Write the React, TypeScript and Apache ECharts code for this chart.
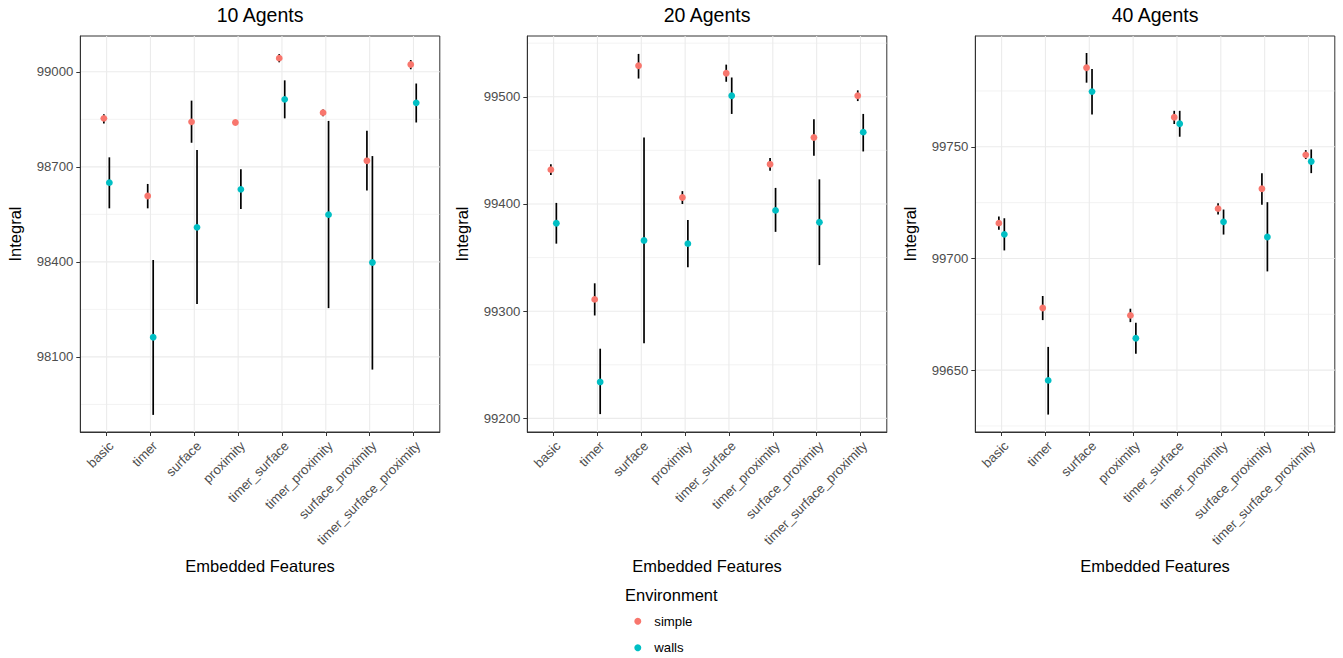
import React, { useEffect, useRef } from "react";
import * as echarts from "echarts";

const categories = ["basic", "timer", "surface", "proximity", "timer_surface", "timer_proximity", "surface_proximity", "timer_surface_proximity"];
const panelTitles = ["10 Agents", "20 Agents", "40 Agents"];
const envNames = ["simple", "walls"];

// 10 agents
const a10SimpleMean = [98853, 98608, 98842, 98840, 99043, 98871, 98719, 99023];
const a10SimpleLow = [98837, 98569, 98776, 98836, 99030, 98860, 98625, 99008];
const a10SimpleHigh = [98866, 98646, 98909, 98844, 99056, 98881, 98814, 99037];
const a10WallsMean = [98650, 98162, 98509, 98629, 98913, 98549, 98398, 98902];
const a10WallsLow = [98569, 97917, 98267, 98567, 98853, 98254, 98060, 98840];
const a10WallsHigh = [98730, 98406, 98753, 98692, 98973, 98845, 98734, 98963];

// 20 agents
const a20SimpleMean = [99432, 99311, 99529, 99406, 99522, 99437, 99462, 99501];
const a20SimpleLow = [99427, 99296, 99517, 99400, 99514, 99431, 99445, 99496];
const a20SimpleHigh = [99437, 99326, 99540, 99412, 99530, 99443, 99479, 99506];
const a20WallsMean = [99382, 99234, 99366, 99363, 99501, 99394, 99383, 99467];
const a20WallsLow = [99363, 99204, 99270, 99341, 99484, 99374, 99343, 99449];
const a20WallsHigh = [99401, 99265, 99462, 99385, 99518, 99415, 99423, 99484];

// 40 agents
const a40SimpleMean = [99715.8, 99677.8, 99785.4, 99674.5, 99763.2, 99722.3, 99731.2, 99746.4];
const a40SimpleLow = [99712.8, 99672.4, 99778.7, 99671.5, 99760.2, 99719.7, 99724.1, 99744.5];
const a40SimpleHigh = [99718.8, 99683.2, 99792, 99677.5, 99766.1, 99724.7, 99738.2, 99748.5];
const a40WallsMean = [99710.8, 99645.4, 99774.7, 99664.3, 99760.3, 99716.4, 99709.6, 99743.4];
const a40WallsLow = [99703.6, 99630.1, 99764.4, 99657.3, 99754.5, 99710.7, 99694.2, 99738.2];
const a40WallsHigh = [99718, 99660.4, 99784.8, 99671.2, 99766.1, 99721.9, 99725.2, 99748.8];

const yRange10 = [97863, 99113];
const yRange20 = [99187.3, 99556.7];
const yRange40 = [99622.3, 99799.6];

const yMajor10 = [98100, 98400, 98700, 99000];
const yMinor10 = [97950, 98250, 98550, 98850];
const yMajor20 = [99200, 99300, 99400, 99500];
const yMinor20 = [99250, 99350, 99450, 99550];
const yMajor40 = [99650, 99700, 99750];
const yMinor40 = [99625, 99675, 99725, 99775];

const FONT = "'Liberation Sans', Arial, Helvetica, sans-serif";
const COLORS = ["#F8766D", "#00BFC4"];
const GRID_COLOR = "#EBEBEB";
const DODGE = 0.0625;

const panels = [
  {
    sMean: a10SimpleMean, sLow: a10SimpleLow, sHigh: a10SimpleHigh,
    wMean: a10WallsMean, wLow: a10WallsLow, wHigh: a10WallsHigh,
    range: yRange10, major: yMajor10, minor: yMinor10, left: 80.3,
  },
  {
    sMean: a20SimpleMean, sLow: a20SimpleLow, sHigh: a20SimpleHigh,
    wMean: a20WallsMean, wLow: a20WallsLow, wHigh: a20WallsHigh,
    range: yRange20, major: yMajor20, minor: yMinor20, left: 527.3,
  },
  {
    sMean: a40SimpleMean, sLow: a40SimpleLow, sHigh: a40SimpleHigh,
    wMean: a40WallsMean, wLow: a40WallsLow, wHigh: a40WallsHigh,
    range: yRange40, major: yMajor40, minor: yMinor40, left: 975.3,
  },
];

const PANEL_TOP = 36;
const PANEL_W = 359.5;
const PANEL_H = 396;

export default function App() {
  const ref = useRef<HTMLDivElement>(null);

  useEffect(() => {
    if (!ref.current) return;
    const chart = echarts.init(ref.current, undefined, { renderer: "svg" });
    const catPos = categories.map((_, i) => i + 1);

    const grids: any[] = [];
    const xAxes: any[] = [];
    const yAxes: any[] = [];
    const series: any[] = [];
    const titles: any[] = [];

    panels.forEach((p, k) => {
      grids.push({
        left: p.left, top: PANEL_TOP, width: PANEL_W, height: PANEL_H,
        show: true, borderColor: "#333333", borderWidth: 1, backgroundColor: "transparent",
      });
      titles.push({
        text: panelTitles[k],
        left: p.left + PANEL_W / 2,
        top: 5,
        textAlign: "center",
        padding: 0,
        textStyle: { fontFamily: FONT, fontSize: 19.5, fontWeight: "normal", color: "#000000" },
      });
      xAxes.push({
        type: "value", gridIndex: k, min: 0.4, max: 8.6,
        name: "Embedded Features", nameLocation: "middle", nameGap: 125,
        nameTextStyle: { fontFamily: FONT, fontSize: 16.5, color: "#000000" },
        axisLine: { show: true, lineStyle: { color: "#333333", width: 1 } },
        axisTick: { show: true, customValues: catPos, length: 4, lineStyle: { color: "#333333", width: 1 } },
        axisLabel: {
          customValues: catPos,
          formatter: (v: number) => categories[Math.round(v) - 1] ?? "",
          rotate: 45, margin: 7, align: "right", verticalAlign: "top",
          fontFamily: FONT, fontSize: 13.2, color: "#4D4D4D",
        },
        splitLine: { show: false },
      });
      yAxes.push({
        type: "value", gridIndex: k, min: p.range[0], max: p.range[1],
        name: "Integral", nameLocation: "middle", nameGap: 56.5,
        nameTextStyle: { fontFamily: FONT, fontSize: 16.5, color: "#000000" },
        axisLine: { show: true, lineStyle: { color: "#333333", width: 1 } },
        axisTick: { show: true, customValues: p.major, length: 4, lineStyle: { color: "#333333", width: 1 } },
        axisLabel: {
          customValues: p.major, margin: 7,
          formatter: (v: number) => String(Math.round(v)),
          fontFamily: FONT, fontSize: 13.2, color: "#4D4D4D",
        },
        splitLine: { show: false },
      });

      const hLine = (values: number[], width: number) => ({
        type: "custom", xAxisIndex: k, yAxisIndex: k, silent: true, z: 0,
        data: values.map((v) => [1, v]),
        renderItem: (params: any, api: any) => {
          const cs = params.coordSys;
          const y = api.coord([api.value(0), api.value(1)])[1];
          return {
            type: "line",
            shape: { x1: cs.x, y1: y, x2: cs.x + cs.width, y2: y },
            style: { stroke: GRID_COLOR, lineWidth: width },
          };
        },
      });
      series.push(hLine(p.minor, 0.6));
      series.push(hLine(p.major, 1.1));
      series.push({
        type: "custom", xAxisIndex: k, yAxisIndex: k, silent: true, z: 0,
        data: catPos.map((c) => [c, p.range[0]]),
        renderItem: (params: any, api: any) => {
          const cs = params.coordSys;
          const x = api.coord([api.value(0), api.value(1)])[0];
          return {
            type: "line",
            shape: { x1: x, y1: cs.y, x2: x, y2: cs.y + cs.height },
            style: { stroke: GRID_COLOR, lineWidth: 1.1 },
          };
        },
      });

      const envs = [
        { mean: p.sMean, low: p.sLow, high: p.sHigh, off: -DODGE },
        { mean: p.wMean, low: p.wLow, high: p.wHigh, off: DODGE },
      ];
      envs.forEach((e) => {
        series.push({
          type: "custom", xAxisIndex: k, yAxisIndex: k, silent: true, z: 2,
          data: catPos.map((c, i) => [c + e.off, e.low[i], e.high[i]]),
          encode: { x: 0, y: [1, 2] },
          renderItem: (params: any, api: any) => {
            const a = api.coord([api.value(0), api.value(1)]);
            const b = api.coord([api.value(0), api.value(2)]);
            return {
              type: "line",
              shape: { x1: a[0], y1: a[1], x2: b[0], y2: b[1] },
              style: { stroke: "#000000", lineWidth: 1.7 },
            };
          },
        });
      });
      envs.forEach((e, j) => {
        series.push({
          type: "scatter", name: envNames[j], xAxisIndex: k, yAxisIndex: k, z: 3,
          symbol: "circle", symbolSize: 6.8,
          itemStyle: { color: COLORS[j], opacity: 1 },
          data: catPos.map((c, i) => [c + e.off, e.mean[i]]),
        });
      });
    });

    chart.setOption({
      animation: false,
      backgroundColor: "#ffffff",
      title: titles,
      grid: grids,
      xAxis: xAxes,
      yAxis: yAxes,
      series,
      legend: {
        data: envNames,
        orient: "vertical",
        left: 634.3,
        top: 613.8,
        itemWidth: 7,
        itemHeight: 7,
        itemGap: 11.4,
        icon: "circle",
        padding: 0,
        textStyle: { fontFamily: FONT, fontSize: 13.2, color: "#000000", lineHeight: 15, padding: [0, 0, 0, 8] },
        selectedMode: false,
      },
      graphic: [
        {
          type: "text", left: 625, top: 586.5,
          style: { text: "Environment", fontFamily: FONT, fontSize: 16.5, fill: "#000000" },
        },
      ],
    });

    return () => chart.dispose();
  }, []);

  return (
    <div
      ref={ref}
      style={{ position: "fixed", left: 0, top: 0, width: 1343, height: 658, background: "#fff" }}
    />
  );
}
